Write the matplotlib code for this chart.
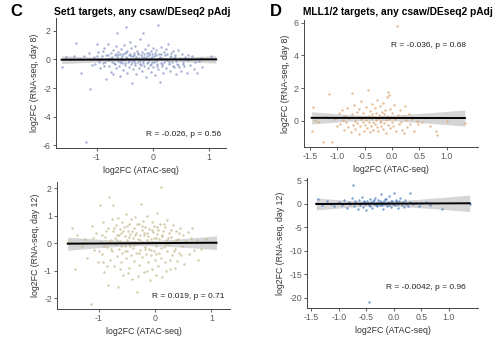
import numpy as np
import matplotlib
matplotlib.use("Agg")
import matplotlib.pyplot as plt

plt.rcParams["font.family"] = ["Liberation Sans", "DejaVu Sans"]
plt.rcParams["axes.unicode_minus"] = False

# ---------------- data ----------------
# Set1 targets: ATAC log2FC vs RNA log2FC, day 8
set1_d8_x = [-1.62, -1.55, -1.48, -1.40, -1.36, -1.30, -1.27, -1.22, -1.19, -1.14, -1.11, -1.08, -1.05, -1.02,
             -0.99, -0.97, -0.95, -0.93, -0.91, -0.89, -0.88, -0.86, -0.85, -0.83, -0.82, -0.80, -0.79, -0.78,
             -0.76, -0.75, -0.74, -0.72, -0.71, -0.70, -0.69, -0.68, -0.67, -0.66, -0.65, -0.64, -0.63, -0.62,
             -0.61, -0.60, -0.59, -0.58, -0.57, -0.56, -0.55, -0.54, -0.53, -0.52, -0.51, -0.50, -0.49, -0.48,
             -0.47, -0.46, -0.45, -0.44, -0.43, -0.42, -0.41, -0.40, -0.39, -0.38, -0.37, -0.36, -0.35, -0.34,
             -0.33, -0.32, -0.31, -0.30, -0.29, -0.28, -0.27, -0.26, -0.25, -0.24, -0.23, -0.22, -0.21, -0.20,
             -0.19, -0.18, -0.17, -0.16, -0.15, -0.14, -0.13, -0.12, -0.11, -0.10, -0.09, -0.08, -0.07, -0.06,
             -0.05, -0.04, -0.03, -0.02, -0.01, 0.00, 0.01, 0.02, 0.03, 0.04, 0.05, 0.06, 0.07, 0.08, 0.09, 0.10,
             0.11, 0.12, 0.13, 0.14, 0.15, 0.16, 0.17, 0.18, 0.19, 0.20, 0.22, 0.23, 0.24, 0.26, 0.27, 0.28,
             0.30, 0.31, 0.32, 0.34, 0.35, 0.37, 0.38, 0.40, 0.41, 0.43, 0.44, 0.46, 0.48, 0.50, 0.52, 0.54,
             0.56, 0.58, 0.61, 0.63, 0.66, 0.70, 0.73, 0.78, 0.82, 0.88, 1.03,
             -0.77, -0.73, -0.69, -0.66, -0.62, -0.59, -0.56, -0.53, -0.50, -0.47, -0.45, -0.43, -0.41, -0.39,
             -0.37, -0.35, -0.33, -0.31, -0.29, -0.27, -0.25, -0.23, -0.21, -0.19, -0.17, -0.15, -0.13, -0.11,
             -0.09, -0.07, -0.05, -0.03, -0.01, 0.02, 0.05, 0.08, 0.11, 0.14, 0.17, 0.21, 0.25, 0.29, 0.33,
             0.36, 0.39, 0.42, 0.45, 0.49, 0.53, 0.57, -0.84, -0.87, -0.92, -0.96, -1.00, 0.62, 0.67, 0.75, 0.85,
             1.12]
set1_d8_y = [-0.50, 0.15, 0.05, 0.25, 1.15, 0.00, -0.95, 0.25, -5.76, 0.45, -2.10, -0.42, 0.15, -0.30,
             1.05, 0.50, -0.05, -0.62, 0.22, -0.28, 0.62, 0.78, -0.15, -1.35, 0.05, 1.10, 0.32, -0.48,
             0.12, -0.85, 0.45, -0.20, 0.68, -1.05, 0.02, 0.28, -0.35, 0.92, -0.62, 1.88, 0.15, -0.12,
             0.55, -0.45, 0.38, -1.15, 0.08, 0.72, -0.28, 0.22, -0.72, 1.00, -0.05, 0.45, -0.38, 2.28,
             0.18, -0.95, 0.60, -0.18, 0.32, -0.55, 1.25, 0.05, -0.30, 0.80, -1.68, 0.25, -0.65, 0.48,
             -0.08, 0.95, -0.42, 0.12, -1.02, 0.62, -0.20, 0.35, -0.58, 0.00, 1.40, -0.35, 0.28, -0.80,
             0.55, -0.10, 1.86, 0.18, -0.48, 0.70, -1.25, 0.08, -0.25, 0.42, -0.62, 1.02, -0.02, 0.30,
             -0.40, 0.58, -0.88, 0.15, -0.18, 0.82, -0.52, 0.25, -1.10, 0.45, -0.08, 0.65, -0.32, 0.05, 2.40, -0.70,
             0.38, -1.60, 0.20, -0.22, 0.90, -0.45, 0.10, -0.95, 0.52, -0.15, 0.32, -0.60, 0.75, -0.05, 1.10, -0.35,
             0.18, -0.80, 0.48, -0.20, 0.62, -0.50, 0.08, 0.15, -1.05, -0.30, 0.65, -0.55, 0.02, -0.80, 0.35, -0.20,
             -0.45, 0.20, -0.95, -0.05, -0.40, 0.25, -0.70, -0.95, -0.10, -0.50, 0.23,
             -0.05, 0.18, -0.25, 0.40, 0.30, -0.18, -0.08, 0.35, -0.22, 0.52, 0.12, -0.10, 0.40, 0.22,
             -0.15, 0.05, 0.30, -0.25, 0.20, 0.45, 0.10, -0.12, -0.40, 0.15, -0.25, 0.38, 0.00, 0.25,
             -0.15, 0.48, 0.12, -0.30, 0.40, -0.20, 0.28, -0.45, 0.12, 0.40, -0.30, 0.05, 0.38, -0.18, 0.25,
             -0.45, 0.30, -0.10, -0.40, 0.10, -0.30, 0.00, 0.30, -0.45, 0.05, -0.20, 0.25, 0.30, 0.00, -0.20, 0.10,
             0.05]

# Set1 targets, day 12
set1_d12_x = [-1.55, -1.50, -1.47, -1.42, -1.38, -1.30, -1.25, -1.20, -1.14, -1.12, -1.08, -1.05, -1.02, -0.98,
              -0.96, -0.94, -0.92, -0.90, -0.88, -0.86, -0.84, -0.83, -0.81, -0.80, -0.79, -0.77, -0.76, -0.75,
              -0.74, -0.73, -0.71, -0.70, -0.69, -0.68, -0.67, -0.66, -0.65, -0.64, -0.63, -0.62, -0.61, -0.60,
              -0.59, -0.58, -0.57, -0.56, -0.55, -0.54, -0.53, -0.52, -0.51, -0.50, -0.49, -0.48, -0.47, -0.46,
              -0.45, -0.44, -0.43, -0.42, -0.41, -0.40, -0.39, -0.38, -0.37, -0.36, -0.35, -0.34, -0.33, -0.32,
              -0.31, -0.30, -0.29, -0.28, -0.27, -0.26, -0.25, -0.24, -0.23, -0.22, -0.21, -0.20, -0.19, -0.18,
              -0.17, -0.16, -0.15, -0.14, -0.13, -0.12, -0.11, -0.10, -0.09, -0.08, -0.07, -0.06, -0.05, -0.04,
              -0.03, -0.02, -0.01, 0.00, 0.01, 0.02, 0.03, 0.04, 0.05, 0.06, 0.07, 0.08, 0.09, 0.10, 0.11, 0.12,
              0.13, 0.14, 0.15, 0.17, 0.18, 0.19, 0.21, 0.22, 0.24, 0.25, 0.27, 0.28, 0.30, 0.32, 0.33, 0.35,
              0.37, 0.39, 0.41, 0.43, 0.45, 0.47, 0.50, 0.52, 0.55, 0.58, 0.60, 0.63, 0.66, 0.70, 0.74, 0.77,
              0.82, 0.90, 1.09,
              -0.95, -0.91, -0.87, -0.82, -0.78, -0.72, -0.68, -0.64, -0.60, -0.57, -0.53, -0.50, -0.47, -0.44,
              -0.41, -0.38, -0.35, -0.32, -0.29, -0.26, -0.23, -0.20, -0.17, -0.14, -0.11, -0.08, -0.05, -0.02,
              0.01, 0.04, 0.07, 0.10, 0.13, 0.16, 0.20, 0.23, 0.26, 0.29, 0.34, 0.38, 0.42, 0.46, 0.51,
              -1.00, -1.10, -0.93, -0.85, -0.62, -0.48, -0.30, -0.15, 0.02, 0.20, 0.36]
set1_d12_y = [0.02, 0.05, 0.53, -0.96, 0.30, -0.10, 0.15, -0.55, -2.20, 0.62, -0.25, 0.38, -0.70, 1.40,
              0.05, -0.40, 0.75, -1.05, 0.22, -0.15, 0.55, -1.53, 1.66, -0.62, 0.10, 0.88, -0.30, 1.40,
              0.42, -0.85, 0.18, -0.05, 0.65, -0.48, 0.30, -1.60, 0.92, -0.20, 0.50, 0.08, -0.70, 0.35,
              -0.35, 0.78, 0.00, -1.15, 0.60, -0.10, 0.25, -0.55, 1.05, 0.12, -0.28, 0.45, -0.90, 0.70,
              -0.02, 0.32, -0.45, 0.88, -1.30, 0.20, -0.18, 0.55, -0.65, 0.05, 0.95, -0.38, 0.38, -1.77,
              0.15, -0.05, 0.68, -0.80, 0.28, -0.25, 1.42, 0.48, -0.50, 0.02, 0.80, -1.05, 0.35, -0.15,
              0.60, -0.40, 0.10, 0.98, -0.70, 0.25, -0.20, 0.52, -1.35, 0.15, -0.45, 0.75, -0.96, 0.05,
              0.40, -0.28, 0.62, -0.60, 0.20, -0.10, 1.10, 0.32, -0.85, 0.48, -0.35, 0.00, 0.70, -0.55, 2.05, 0.25,
              -1.25, 0.42, -0.15, 0.58, -0.70, 0.12, -0.30, 0.85, -0.05, 0.38, -0.95, 0.22, -0.45, 0.65, 0.02, -0.20,
              0.45, -0.65, 0.15, -0.35, 0.55, -0.10, 0.30, -0.75, 0.08, 0.40, -0.40, 0.20, 0.54, -0.25, 0.10, -0.62,
              -0.20, 0.15, 0.00,
              0.30, -0.10, 0.45, 0.02, -0.20, 0.55, 0.12, 0.28, -0.12, 0.42, -0.30, 0.62, 0.22, -0.12,
              0.45, -0.08, 0.30, 0.70, -0.35, 0.10, 0.62, 0.28, -0.20, 0.35, 0.05, -0.25, 0.48, 0.18,
              -0.40, 0.60, 0.15, -0.18, 0.30, 0.68, -0.05, 0.18, -0.60, 0.48, -0.30, 0.10, 0.35, -0.42, 0.05,
              -0.30, 0.20, -0.70, -0.85, -0.95, -1.10, -1.20, -1.00, -1.15, -1.00, -0.90]

# MLL1/2 targets, day 8
mll_d8_x = [-1.47, -1.45, -1.40, -1.35, -1.27, -1.22, -1.15, -1.10, -1.05, -1.00, -0.97, -0.95, -0.92, -0.90,
            -0.88, -0.86, -0.84, -0.82, -0.80, -0.78, -0.76, -0.74, -0.73, -0.71, -0.70, -0.68, -0.67, -0.65,
            -0.64, -0.62, -0.61, -0.60, -0.58, -0.57, -0.56, -0.54, -0.53, -0.52, -0.50, -0.49, -0.48, -0.47,
            -0.46, -0.44, -0.43, -0.42, -0.41, -0.40, -0.39, -0.38, -0.37, -0.36, -0.35, -0.34, -0.33, -0.32,
            -0.31, -0.30, -0.29, -0.28, -0.27, -0.26, -0.25, -0.24, -0.23, -0.22, -0.21, -0.20, -0.19, -0.18,
            -0.17, -0.16, -0.15, -0.14, -0.13, -0.12, -0.11, -0.10, -0.09, -0.08, -0.07, -0.06, -0.05, -0.04,
            -0.03, -0.02, -0.01, 0.00, 0.02, 0.04, 0.05, 0.07, 0.09, 0.10, 0.12, 0.14, 0.16, 0.18, 0.20, 0.22,
            0.24, 0.26, 0.28, 0.30, 0.33, 0.36, 0.40, 0.45, 0.48, 0.55, 0.62, 0.70, 0.80, 0.82, 1.00, 1.33]
mll_d8_y = [-0.63, 0.86, 0.05, -0.10, -1.32, 0.20, 1.63, -1.32, 0.10, -0.35, 0.45, -0.20, 0.65, 0.05,
            -0.55, 0.30, -0.10, 0.80, -0.40, 0.15, -0.70, 1.70, 0.40, -0.25, 0.95, 0.00, -0.50, 0.55,
            -0.15, 0.25, -0.80, 0.70, -0.35, 0.10, 1.20, -0.05, 0.45, -0.60, 0.20, -0.25, 0.85, 0.05,
            -0.45, 1.88, 0.30, -0.10, 0.60, -0.70, 0.15, -0.30, 1.00, 0.40, -0.05, -0.55, 0.25, 0.75,
            -0.20, 0.05, 0.50, -0.40, 1.25, 0.15, -0.65, 0.35, -0.10, 0.90, 0.00, -0.30, 0.55, 0.20,
            -0.50, 1.10, 0.40, -0.15, 0.65, 0.05, -0.75, 0.30, 1.45, -0.25, 1.74, 1.60, 0.10, -0.45,
            0.70, 0.25, -0.10, 0.50, -0.35, 0.95, 0.10, -0.60, 5.82, 0.35, -0.20, 0.65, -0.10, -0.55, 0.30, -0.78,
            0.92, 0.02, -0.40, 0.42, -0.22, 0.12, -0.60, -0.02, -0.20, -0.10, 0.18, -0.32, -0.61, -0.90, -0.02, -0.15]

# MLL1/2 targets, day 12
mll_d12_x = [-1.41, -1.38, -1.30, -1.22, -1.15, -1.08, -1.00, -0.95, -0.90, -0.86, -0.82, -0.79, -0.76, -0.74,
             -0.72, -0.70, -0.68, -0.66, -0.64, -0.62, -0.60, -0.58, -0.56, -0.54, -0.52, -0.50, -0.48, -0.45,
             -0.46, -0.44, -0.42, -0.40, -0.38, -0.36, -0.34, -0.32, -0.30, -0.28, -0.26, -0.24, -0.22, -0.20,
             -0.18, -0.16, -0.14, -0.12, -0.10, -0.08, -0.06, -0.04, -0.02, 0.00, 0.02, 0.04, 0.06, 0.08, 0.10,
             0.12, 0.14, 0.16, 0.18, 0.20, 0.22, 0.25, 0.29, 0.30, 0.35, 0.40, 0.45, 0.50, 0.58, 0.65, 0.87, 1.38,
             -0.55, -0.47, -0.43, -0.37, -0.33, -0.29, -0.25, -0.21, -0.17, -0.13, -0.09, -0.05, -0.01, 0.03, 0.07]
mll_d12_y = [0.20, 1.10, -0.30, 0.50, 0.00, -0.50, 0.40, -0.20, 0.80, -0.80, 0.30, -0.10, 1.20, 3.90,
             -0.40, 0.60, 0.10, -1.10, 0.90, -0.30, 0.20, 1.50, -0.60, 0.40, 0.00, -1.30, 0.70, -20.8,
             -0.20, 1.00, 0.30, -0.80, 0.50, -0.10, 1.30, 0.10, -0.50, 0.80, -0.20, 2.10, 0.40, -1.00,
             0.60, 0.00, 1.10, -0.40, 0.30, 1.60, -0.70, 0.70, 0.10, 2.40, -0.30, 0.90, 0.20, -0.90, 0.50,
             1.20, -0.20, 0.40, -0.60, 0.80, 0.00, -0.40, 2.40, 0.30, -0.10, 0.20, -0.50, 0.10, 0.30, -0.20, -1.20, -0.10,
             0.55, 0.15, -0.45, 0.85, -0.30, 0.25, 0.65, -0.15, 0.95, 0.20, -0.30, 0.50, -0.10, 0.65, 0.05]

panels = [
    dict(x=set1_d8_x, y=set1_d8_y, color="#8696c4", ylabel="log2FC (RNA-seq, day 8)",
         note="R = -0.026, p = 0.56", box=(56, 18, 226, 148), xlim=(-1.72, 1.30), ylim=(-6.2, 2.9),
         xticks=[-1, 0, 1], yticks=[-6, -4, -2, 0, 2], fmt="{:g}", note_xy=(0.97, 0.10)),
    dict(x=set1_d12_x, y=set1_d12_y, color="#c4b98e", ylabel="log2FC (RNA-seq, day 12)",
         note="R = 0.019, p = 0.71", box=(57, 182, 230, 309), xlim=(-1.74, 1.33), ylim=(-2.4, 2.22),
         xticks=[-1, 0, 1], yticks=[-2, -1, 0, 1, 2], fmt="{:g}", note_xy=(0.97, 0.10)),
    dict(x=mll_d8_x, y=mll_d8_y, color="#dea574", ylabel="log2FC (RNA-seq, day 8)",
         note="R = -0.036, p = 0.68", box=(304, 20, 478, 147), xlim=(-1.61, 1.57), ylim=(-1.61, 6.17),
         xticks=[-1.5, -1.0, -0.5, 0.0, 0.5, 1.0], yticks=[0, 2, 4, 6], fmt="{:.1f}", note_xy=(0.93, 0.80)),
    dict(x=mll_d12_x, y=mll_d12_y, color="#4f7fc2", ylabel="log2FC (RNA-seq, day 12)",
         note="R = -0.0042, p = 0.96", box=(307, 178, 478, 308), xlim=(-1.58, 1.53), ylim=(-22.17, 5.49),
         xticks=[-1.5, -1.0, -0.5, 0.0, 0.5, 1.0], yticks=[-20, -15, -10, -5, 0, 5], fmt="{:.1f}",
         note_xy=(0.93, 0.16)),
]

W, H = 500, 344
fig = plt.figure(figsize=(W / 100, H / 100), dpi=100)

tick_grey = "#5a5a5a"
for p in panels:
    L, T, R, B = p["box"]
    ax = fig.add_axes([L / W, 1 - B / H, (R - L) / W, (B - T) / H])
    x = np.asarray(p["x"], float)
    y = np.asarray(p["y"], float)

    ax.scatter(x, y, s=3, color=p["color"], alpha=0.75, linewidths=0, zorder=2)

    # linear fit with 95% confidence band
    slope, icept = np.polyfit(x, y, 1)
    xs = np.linspace(x.min(), x.max(), 100)
    fit = icept + slope * xs
    n = len(x)
    resid = y - (icept + slope * x)
    s = np.sqrt(np.sum(resid ** 2) / (n - 2))
    sxx = np.sum((x - x.mean()) ** 2)
    se = s * np.sqrt(1 / n + (xs - x.mean()) ** 2 / sxx)
    ax.fill_between(xs, fit - 1.97 * se, fit + 1.97 * se, color="#b3b3b3", alpha=0.55, linewidth=0, zorder=1)
    ax.plot(xs, fit, color="black", lw=1.4, zorder=3)

    ax.set_xlim(*p["xlim"])
    ax.set_ylim(*p["ylim"])
    ax.set_xticks(p["xticks"])
    ax.set_xticklabels([p["fmt"].format(v) for v in p["xticks"]])
    ax.set_yticks(p["yticks"])
    for side in ("top", "right"):
        ax.spines[side].set_visible(False)
    for side in ("left", "bottom"):
        ax.spines[side].set_color("#444444")
        ax.spines[side].set_linewidth(0.7)
    ax.tick_params(length=2.2, width=0.6, color="#444444", labelsize=6.3, labelcolor=tick_grey, pad=1.5)
    ax.set_xlabel("log2FC (ATAC-seq)", fontsize=6.3, color="#333333", labelpad=2.5)
    ax.set_ylabel(p["ylabel"], fontsize=6.3, color="#333333", labelpad=3)
    ax.text(*p["note_xy"], p["note"], transform=ax.transAxes, ha="right", va="center",
            fontsize=6, color="#222222")

# panel letters and titles
fig.text(10 / W, 1 - 12 / H, "C", fontsize=12, fontweight="bold", va="center", ha="left")
fig.text(142 / W, 1 - 12 / H, "Set1 targets, any csaw/DEseq2 pAdj", fontsize=7.4, fontweight="bold",
         va="center", ha="center")
fig.text(270 / W, 1 - 12 / H, "D", fontsize=12, fontweight="bold", va="center", ha="left")
fig.text(398 / W, 1 - 12 / H, "MLL1/2 targets, any csaw/DEseq2 pAdj", fontsize=7.4, fontweight="bold",
         va="center", ha="center")

fig.savefig("out.png", dpi=100)
